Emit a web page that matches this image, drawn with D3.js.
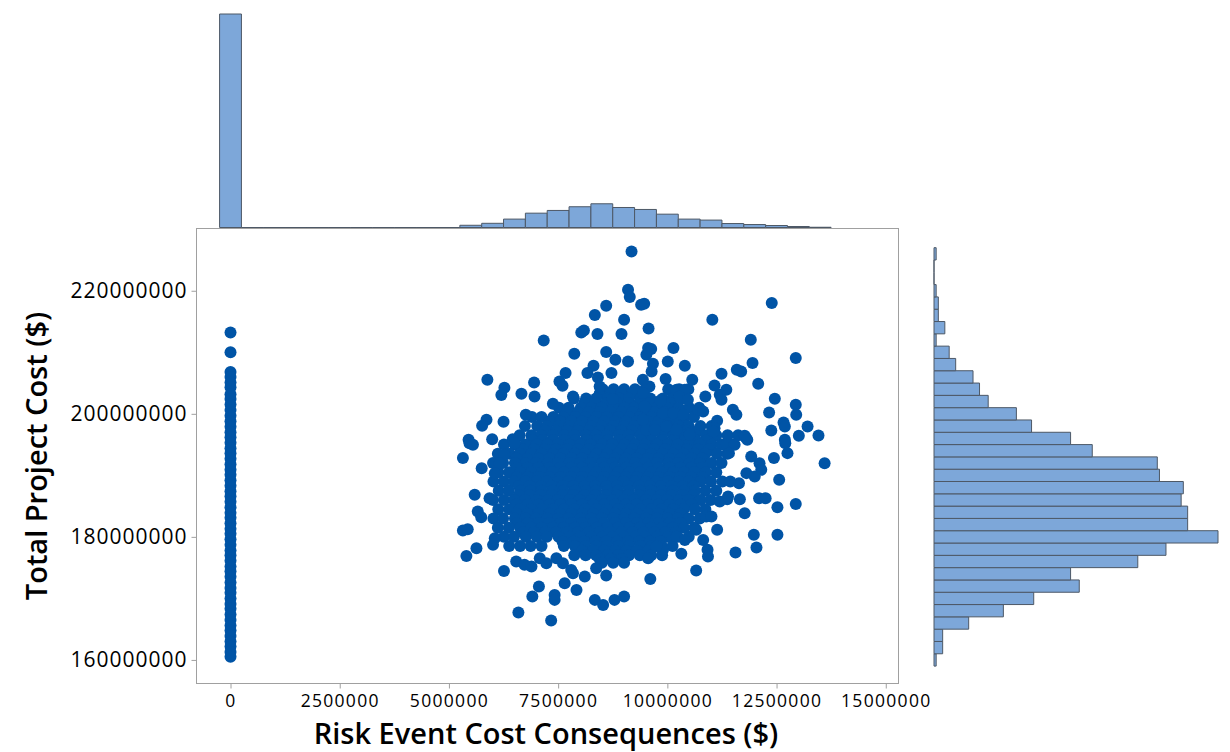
<!DOCTYPE html>
<html>
<head>
<meta charset="utf-8">
<script src="https://cdn.jsdelivr.net/npm/d3@7"></script>
<style>
  body { margin: 0; background: #fff; }
  svg { display: block; }
  .tick text { fill: #000; }
</style>
</head>
<body>
<script>
// values in millions of dollars (risk cost, total cost)
var xTicks = [0, 2500000, 5000000, 7500000, 10000000, 12500000, 15000000];
var yTicks = [160000000, 180000000, 200000000, 220000000];

// runs with no risk event: all at 0
var zeroRunCost = [213.2, 210.0, 206.8, 206.0, 205.1, 204.3, 203.2, 202.4, 201.5, 200.6, 199.7, 198.8,
  197.9, 197.0, 196.2, 195.3, 194.4, 193.6, 192.7, 191.8, 190.9, 190.1, 189.2, 188.3, 187.4, 186.6,
  185.7, 184.8, 183.9, 183.1, 182.2, 181.3, 180.5, 179.6, 178.7, 177.8, 177.0, 176.1, 175.2, 174.4,
  173.5, 172.6, 171.7, 170.9, 170.0, 169.1, 168.3, 167.4, 166.5, 165.6, 164.8, 163.9, 163.0, 162.2,
  161.3, 160.5];

// outer points of the cloud [risk, total]
var cloudEdge = [
  [9.18,226.39],[9.10,220.16],[9.14,218.98],[9.40,217.72],[8.60,217.56],[8.34,216.05],[9.01,215.28],
  [8.03,213.22],[8.09,213.55],[8.40,212.96],[8.95,212.96],[7.17,211.92],[8.60,210.03],[7.87,209.76],
  [9.10,208.51],[8.81,208.78],[8.31,207.80],[7.67,206.62],[8.17,206.62],[5.88,205.53],[6.27,204.23],
  [6.20,203.04],[6.95,205.09],[7.53,205.25],[7.60,204.55],[6.66,203.25],[8.41,205.90],[8.45,204.44],
  [8.72,206.62],[6.96,202.81],[7.38,201.63],[7.84,202.81],[8.75,202.39],[5.86,199.02],[5.76,198.05],
  [6.25,198.70],[6.76,199.83],[5.45,195.77],[5.99,195.88],[6.46,195.88],
  [9.47,217.89],[11.03,215.28],[12.39,218.00],[9.57,213.87],[11.91,212.03],[9.56,210.68],[9.63,210.52],
  [9.52,209.59],[10.14,210.68],[12.94,209.06],[10.01,208.51],[9.67,208.13],[9.64,206.88],[10.40,207.80],
  [11.95,208.24],[11.59,207.15],[11.69,206.88],[11.24,206.50],[9.96,205.64],[10.57,205.53],[12.08,204.88],
  [9.59,204.44],[11.08,204.60],[11.35,203.90],[11.20,203.09],[11.24,202.28],[10.21,203.90],[10.40,203.90],
  [10.28,202.81],[10.47,202.28],[10.87,202.81],[12.46,202.44],[9.84,202.16],[12.94,201.46],[12.95,199.83],
  [10.70,200.65],[10.82,200.37],[11.50,200.65],[11.58,199.83],[12.33,200.21],[9.90,200.11],[10.13,200.11],
  [10.36,199.83],[12.66,198.58],[12.69,197.93],[11.14,198.86],[11.08,197.67],[13.21,197.93],[12.38,197.28],
  [11.77,196.42],[13.01,196.42],[13.46,196.47],[12.69,195.77],[9.52,197.40],[9.71,197.40],[9.98,197.93],
  [10.21,197.40],[10.51,196.86],[9.44,205.53],[9.44,203.37],[9.48,201.19],[9.44,199.02],
  [5.47,195.23],[5.55,194.96],[6.50,195.23],[5.32,192.80],[6.27,193.33],[6.16,191.98],[5.75,191.17],
  [6.05,190.36],[5.59,186.83],[5.93,186.29],[5.66,184.11],[5.74,183.20],[5.32,181.02],[5.43,181.25],
  [6.05,179.78],[6.01,178.70],[5.63,178.16],[5.40,176.91],[6.54,175.98],[6.73,175.45],[6.89,175.17],
  [6.26,174.47],[7.08,176.53],[7.23,175.72],[7.46,176.53],[7.61,175.72],[7.80,174.63],[7.84,174.10],
  [8.11,173.55],[8.37,174.91],[8.60,173.71],[7.65,172.47],[7.92,171.38],[7.06,171.92],[6.91,170.29],
  [7.42,170.57],[7.42,169.76],[8.34,169.76],[8.53,168.94],[8.79,169.76],[9.01,170.29],[6.59,167.69],
  [7.34,166.39],
  [10.51,196.58],[11.06,197.12],[11.79,196.21],[11.83,195.77],[12.70,195.23],[12.75,193.61],[11.36,194.96],
  [11.54,194.96],[11.41,193.61],[12.44,192.80],[13.60,191.98],[11.92,193.06],[12.11,191.98],[12.15,190.89],
  [11.81,190.36],[12.00,189.81],[12.56,189.27],[11.64,188.73],[11.44,189.00],[11.66,186.13],[11.37,186.13],
  [12.10,186.29],[12.25,186.29],[12.94,185.36],[12.52,184.83],[11.77,183.85],[11.14,181.14],[11.98,180.33],
  [12.52,180.33],[12.04,178.26],[11.56,177.45],[10.92,177.89],[10.93,176.80],[10.32,177.24],[9.56,176.53],
  [10.66,174.52],[9.61,173.17],[9.90,177.89],[9.75,178.42],[10.82,179.51],[10.66,181.14],[10.89,183.30],
  [11.01,183.30],[11.20,185.74],[11.39,186.55],[10.21,180.05],[10.40,179.51]
];

// dense core of the cloud, read row by row: [total, [risk...]]
var cloudCore = [
  [204.0, [8.52, 8.77, 9.01, 9.26, 9.49, 10.02, 10.27, 10.48]],
  [203.25, [8.45, 8.7, 8.95, 9.2, 9.45]],
  [202.5, [7.86, 8.14, 8.37, 8.64, 8.9, 9.12, 9.39, 9.61, 9.9, 10.12, 10.36]],
  [201.75, [8.1, 8.35, 8.6, 8.85, 9.1, 9.35, 9.6, 9.85, 10.1]],
  [201.0, [7.52, 7.74, 8.02, 8.26, 8.49, 8.76, 9.02, 9.24, 9.51, 9.77, 9.99, 10.26, 10.5, 10.73]],
  [200.25, [7.7, 7.95, 8.2, 8.45, 8.7, 8.95, 9.2, 9.45, 9.7, 9.95, 10.2]],
  [199.5, [6.9, 7.12, 7.39, 7.62, 7.89, 8.12, 8.39, 8.61, 8.88, 9.14, 9.37, 9.64, 9.87, 10.12, 10.39, 10.61]],
  [198.75, [7.3, 7.55, 7.8, 8.05, 8.3, 8.55, 8.8, 9.05, 9.3, 9.55, 9.8, 10.05, 10.3]],
  [198.0, [6.74, 7.02, 7.24, 7.51, 7.76, 7.99, 8.26, 8.49, 8.76, 9.01, 9.24, 9.52, 9.74, 10.01, 10.26, 10.49, 10.76, 11.01]],
  [197.25, [7.2, 7.45, 7.7, 7.95, 8.2, 8.45, 8.7, 8.95, 9.2, 9.45, 9.7, 9.95, 10.2, 10.45, 10.7]],
  [196.5, [6.62, 6.89, 7.11, 7.38, 7.64, 7.87, 8.14, 8.37, 8.62, 8.89, 9.12, 9.39, 9.62, 9.88, 10.14, 10.37, 10.63, 10.89, 11.12, 11.38, 11.62]],
  [195.75, [6.9, 7.15, 7.4, 7.65, 7.9, 8.15, 8.4, 8.65, 8.9, 9.15, 9.4, 9.65, 9.9, 10.15, 10.4, 10.65, 10.9]],
  [195.0, [6.26, 6.51, 6.74, 7.02, 7.26, 7.49, 7.76, 8.01, 8.24, 8.51, 8.74, 9.02, 9.26, 9.49, 9.76, 10.01, 10.24, 10.51, 10.74, 11.02, 11.24, 11.49]],
  [194.25, [6.7, 6.95, 7.2, 7.45, 7.7, 7.95, 8.2, 8.45, 8.7, 8.95, 9.2, 9.45, 9.7, 9.95, 10.2, 10.45, 10.7, 10.95]],
  [193.5, [6.12, 6.39, 6.62, 6.89, 7.12, 7.39, 7.62, 7.89, 8.12, 8.38, 8.63, 8.87, 9.13, 9.39, 9.62, 9.88, 10.13, 10.37, 10.64, 10.87, 11.13, 11.37]],
  [192.75, [6.55, 6.8, 7.05, 7.3, 7.55, 7.8, 8.05, 8.3, 8.55, 8.8, 9.05, 9.3, 9.55, 9.8, 10.05, 10.3, 10.55, 10.8]],
  [192.0, [6.01, 6.24, 6.51, 6.76, 6.99, 7.26, 7.49, 7.76, 8.01, 8.24, 8.51, 8.74, 9.01, 9.26, 9.49, 9.76, 10.02, 10.24, 10.51, 10.74, 11.01, 11.24]],
  [191.25, [6.55, 6.8, 7.05, 7.3, 7.55, 7.8, 8.05, 8.3, 8.55, 8.8, 9.05, 9.3, 9.55, 9.8, 10.05, 10.3, 10.55, 10.8]],
  [190.5, [6.13, 6.38, 6.63, 6.88, 7.13, 7.37, 7.63, 7.88, 8.12, 8.38, 8.62, 8.88, 9.13, 9.37, 9.63, 9.87, 10.13, 10.38, 10.62, 10.88, 11.12]],
  [189.75, [6.55, 6.8, 7.05, 7.3, 7.55, 7.8, 8.05, 8.3, 8.55, 8.8, 9.05, 9.3, 9.55, 9.8, 10.05, 10.3, 10.55, 10.8]],
  [189.0, [6.02, 6.26, 6.49, 6.76, 7.01, 7.24, 7.51, 7.74, 8.02, 8.26, 8.49, 8.76, 9.0, 9.26, 9.5, 9.74, 10.01, 10.26, 10.49, 10.76, 11.0, 11.26]],
  [188.25, [6.6, 6.85, 7.1, 7.35, 7.6, 7.85, 8.1, 8.35, 8.6, 8.85, 9.1, 9.35, 9.6, 9.85, 10.1, 10.35, 10.6]],
  [187.5, [6.14, 6.37, 6.64, 6.87, 7.12, 7.38, 7.62, 7.88, 8.13, 8.37, 8.63, 8.87, 9.12, 9.38, 9.63, 9.87, 10.12, 10.38, 10.63, 10.87, 11.12]],
  [186.75, [6.6, 6.85, 7.1, 7.35, 7.6, 7.85, 8.1, 8.35, 8.6, 8.85, 9.1, 9.35, 9.6, 9.85, 10.1, 10.35, 10.6]],
  [186.0, [6.01, 6.26, 6.49, 6.74, 7.01, 7.26, 7.49, 7.76, 7.99, 8.26, 8.51, 8.74, 9.01, 9.24, 9.51, 9.76, 9.99, 10.26, 10.49, 10.76, 10.99]],
  [185.25, [6.55, 6.8, 7.05, 7.3, 7.55, 7.8, 8.05, 8.3, 8.55, 8.8, 9.05, 9.3, 9.55, 9.8, 10.05, 10.3, 10.55]],
  [184.5, [6.13, 6.38, 6.62, 6.88, 7.12, 7.38, 7.63, 7.87, 8.13, 8.38, 8.62, 8.88, 9.12, 9.38, 9.63, 9.87, 10.13, 10.37, 10.63, 10.87]],
  [183.75, [6.55, 6.8, 7.05, 7.3, 7.55, 7.8, 8.05, 8.3, 8.55, 8.8, 9.05, 9.3, 9.55, 9.8, 10.05, 10.3]],
  [183.0, [6.02, 6.24, 6.51, 6.76, 6.99, 7.26, 7.51, 7.74, 8.01, 8.26, 8.49, 8.76, 9.01, 9.24, 9.51, 9.76, 10.01, 10.24, 10.49, 10.74]],
  [182.25, [6.55, 6.8, 7.05, 7.3, 7.55, 7.8, 8.05, 8.3, 8.55, 8.8, 9.05, 9.3, 9.55, 9.8, 10.05, 10.3]],
  [181.5, [6.12, 6.37, 6.63, 6.88, 7.12, 7.38, 7.62, 7.88, 8.12, 8.38, 8.63, 8.87, 9.13, 9.37, 9.62, 9.88, 10.12, 10.38, 10.62]],
  [180.75, [6.7, 6.95, 7.2, 7.45, 7.7, 7.95, 8.2, 8.45, 8.7, 8.95, 9.2, 9.45, 9.7, 9.95, 10.2]],
  [180.0, [6.26, 6.49, 6.76, 7.01, 7.24, 7.51, 7.76, 7.99, 8.26, 8.51, 8.74, 9.01, 9.26, 9.49, 9.76, 10.01, 10.24, 10.49]],
  [179.25, [7.6, 7.85, 8.1, 8.35, 8.6, 8.85, 9.1, 9.35, 9.6, 9.85]],
  [178.5, [6.38, 6.63, 6.87, 7.12, 7.63, 7.88, 8.12, 8.38, 8.62, 8.88, 9.12, 9.38, 9.63, 9.87, 10.12]],
  [177.75, [8.05, 8.3, 8.55, 8.8, 9.05, 9.3, 9.55]],
  [177.0, [7.87, 8.13, 8.37, 8.63, 8.88, 9.12, 9.37, 9.63, 9.88]],
  [176.4, [8.45, 8.7, 8.95]],
  [175.8, [8.5, 8.76, 9.01]]
];

// marginal histogram of risk cost, bins of 500000 starting at -250000
var riskBinStart = -250000, riskBinWidth = 500000;
var riskCounts = [864, 0, 0, 0, 0, 0, 0, 0, 0, 0, 0, 9, 17, 34, 58, 69, 84, 96, 81, 73, 54, 34, 30, 16, 12, 8, 4, 1];

// marginal histogram of total cost, bins of 2000000 starting at 159000000
var totalBinStart = 159000000, totalBinWidth = 2000000;
var totalCounts = [1, 4, 4, 16, 32, 46, 67, 63, 94, 107, 131, 117, 117, 114, 115, 104, 103, 73, 63, 45,
  38, 25, 21, 18, 10, 7, 1, 5, 2, 2, 1, 0, 0, 1];

var frame = {left: 196, right: 898, top: 228, bottom: 683};
var dotColor = "#0054a6";
var barFill = "#7da7d9";
var barStroke = "#4d5866";

var svg = d3.select("body").append("svg")
    .attr("width", 1230)
    .attr("height", 752);

var xScale = d3.scaleLinear()
    .domain([-790000, 15280000])
    .range([frame.left, frame.right]);

var yScale = d3.scaleLinear()
    .domain([156250000, 230200000])
    .range([frame.bottom, frame.top]);

// build points
var points = [];
zeroRunCost.forEach(function(t){ points.push({risk: 0, total: t * 1e6}); });
cloudCore.forEach(function(row){
    row[1].forEach(function(r){ points.push({risk: r * 1e6, total: row[0] * 1e6}); });
});
cloudEdge.forEach(function(p){ points.push({risk: p[0] * 1e6, total: p[1] * 1e6}); });

// box as a path so empty bins still show their outline
var boxPath = function(x0, y0, x1, y1){
    return "M" + x0 + "," + y0 + "H" + x1 + "V" + y1 + "H" + x0 + "Z";
}

// top histogram
var topCount = d3.scaleLinear()
    .domain([0, d3.max(riskCounts)])
    .range([227.5, 14]);

svg.append("g").selectAll("path")
    .data(riskCounts)
    .enter().append("path")
    .attr("d", function(d, i){
        var x0 = xScale(riskBinStart + i * riskBinWidth);
        var x1 = xScale(riskBinStart + (i + 1) * riskBinWidth);
        return boxPath(x0, topCount(0), x1, topCount(d));
    })
    .attr("fill", barFill)
    .attr("stroke", barStroke)
    .attr("stroke-width", 1);

// right histogram
var rightCount = d3.scaleLinear()
    .domain([0, d3.max(totalCounts)])
    .range([934, 1218]);

svg.append("g").selectAll("path")
    .data(totalCounts)
    .enter().append("path")
    .attr("d", function(d, i){
        var y0 = yScale(totalBinStart + i * totalBinWidth);
        var y1 = yScale(totalBinStart + (i + 1) * totalBinWidth);
        return boxPath(rightCount(0), y0, rightCount(d), y1);
    })
    .attr("fill", barFill)
    .attr("stroke", barStroke)
    .attr("stroke-width", 1);

// frame
svg.append("rect")
    .attr("x", frame.left + 0.5)
    .attr("y", frame.top + 0.5)
    .attr("width", frame.right - frame.left)
    .attr("height", frame.bottom - frame.top)
    .attr("fill", "#fff")
    .attr("stroke", "#a0a0a0")
    .attr("stroke-width", 1);

// axes
var xAxis = d3.axisBottom(xScale)
    .tickValues(xTicks)
    .tickFormat(d3.format("d"))
    .tickSize(5)
    .tickPadding(6);

var yAxis = d3.axisLeft(yScale)
    .tickValues(yTicks)
    .tickFormat(d3.format("d"))
    .tickSize(5)
    .tickPadding(4);

var gx = svg.append("g")
    .attr("transform", "translate(0," + (frame.bottom + 0.5) + ")")
    .call(xAxis);
gx.select(".domain").remove();
gx.selectAll(".tick line").attr("stroke", "#a0a0a0");
gx.selectAll(".tick text")
    .style("font-family", "'Open Sans', 'Noto Sans', sans-serif")
    .style("font-size", "17.5px")
    .style("letter-spacing", "1.3px");

var gy = svg.append("g")
    .attr("transform", "translate(" + (frame.left + 0.5) + ",0)")
    .call(yAxis);
gy.select(".domain").remove();
gy.selectAll(".tick line").attr("stroke", "#a0a0a0");
gy.selectAll(".tick text")
    .style("font-family", "'Open Sans', 'Noto Sans', sans-serif")
    .style("font-size", "21px")
    .style("letter-spacing", "1px");

// dots
svg.append("g").selectAll("circle")
    .data(points)
    .enter().append("circle")
    .attr("cx", function(d){ return xScale(d.risk); })
    .attr("cy", function(d){ return yScale(d.total); })
    .attr("r", 6)
    .attr("fill", dotColor);

// titles
svg.append("text")
    .attr("x", 546)
    .attr("y", 744)
    .attr("text-anchor", "middle")
    .style("font-family", "'Open Sans', 'Noto Sans', sans-serif")
    .style("font-weight", 600)
    .style("font-size", "29px")
    .text("Risk Event Cost Consequences ($)");

svg.append("text")
    .attr("transform", "translate(47,456) rotate(-90)")
    .attr("text-anchor", "middle")
    .style("font-family", "'Open Sans', 'Noto Sans', sans-serif")
    .style("font-weight", 600)
    .style("font-size", "29px")
    .text("Total Project Cost ($)");
</script>
</body>
</html>
